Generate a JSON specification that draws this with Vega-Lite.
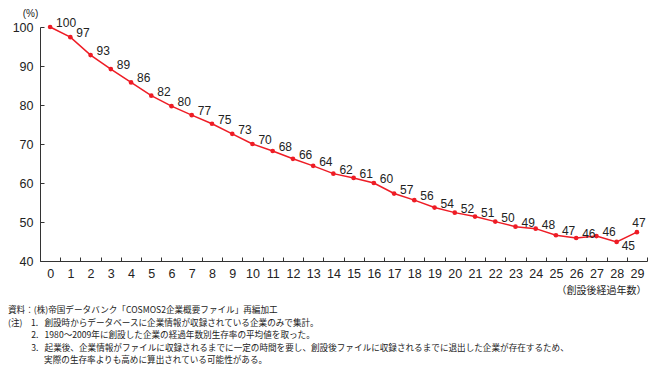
{
  "$schema": "https://vega.github.io/schema/vega-lite/v6.json",
  "width": 607,
  "height": 234,
  "autosize": {"type": "none"},
  "padding": {"left": 40, "top": 27, "right": 10, "bottom": 105},
  "background": "white",
  "config": {
    "view": {"stroke": null},
    "font": "Liberation Sans",
    "axis": {"domainColor": "#333333", "tickColor": "#333333", "labelColor": "#222222", "titleColor": "#222222", "grid": false, "labelFont": "Liberation Sans", "labelFontSize": 12.5}
  },
  "title": {
    "text": [
      "資料：(株)帝国データバンク「COSMOS2企業概要ファイル」再編加工",
      "(注)\u30001. \u2002創設時からデータベースに企業情報が収録されている企業のみで集計。",
      "\u200B\u3000\u3000\u2002\u20092. \u20021980～2009年に創設した企業の経過年数別生存率の平均値を取った。",
      "\u200B\u3000\u3000\u2002\u20093. \u2002起業後、企業情報がファイルに収録されるまでに一定の時間を要し、創設後ファイルに収録されるまでに退出した企業が存在するため、",
      "\u200B\u3000\u3000\u3000\u2002\u2002\u2009実際の生存率よりも高めに算出されている可能性がある。"
    ],
    "orient": "bottom",
    "anchor": "start",
    "frame": "group",
    "dx": -32,
    "offset": 11,
    "font": "Noto Sans CJK JP",
    "fontSize": 8.6,
    "fontWeight": "normal",
    "lineHeight": 12.5,
    "color": "#222222"
  },
  "data": {
    "values": [
      {"year": 0, "rate": 100.0},
      {"year": 1, "rate": 97.4},
      {"year": 2, "rate": 92.8},
      {"year": 3, "rate": 89.2},
      {"year": 4, "rate": 85.8},
      {"year": 5, "rate": 82.4},
      {"year": 6, "rate": 79.7},
      {"year": 7, "rate": 77.4},
      {"year": 8, "rate": 75.2},
      {"year": 9, "rate": 72.6},
      {"year": 10, "rate": 70.0},
      {"year": 11, "rate": 68.2},
      {"year": 12, "rate": 66.2},
      {"year": 13, "rate": 64.4},
      {"year": 14, "rate": 62.4},
      {"year": 15, "rate": 61.3},
      {"year": 16, "rate": 60.0},
      {"year": 17, "rate": 57.3},
      {"year": 18, "rate": 55.6},
      {"year": 19, "rate": 53.7},
      {"year": 20, "rate": 52.4},
      {"year": 21, "rate": 51.4},
      {"year": 22, "rate": 50.1},
      {"year": 23, "rate": 48.8},
      {"year": 24, "rate": 48.3},
      {"year": 25, "rate": 46.6},
      {"year": 26, "rate": 45.9},
      {"year": 27, "rate": 46.4},
      {"year": 28, "rate": 44.9},
      {"year": 29, "rate": 47.4}
    ]
  },
  "encoding": {
    "x": {
      "field": "year",
      "type": "ordinal",
      "scale": {"type": "band", "paddingInner": 0, "paddingOuter": 0},
      "axis": {
        "labelAngle": 0,
        "tickBand": "extent",
        "tickSize": -4,
        "labelPadding": 10,
        "title": "（創設後経過年数）",
        "titleFont": "Noto Sans CJK JP",
        "titleFontSize": 10,
        "titleFontWeight": "normal",
        "titleAnchor": "end",
        "titleAlign": "right",
        "titleX": 606,
        "titleY": 29,
        "titleBaseline": "middle"
      }
    },
    "y": {
      "field": "rate",
      "type": "quantitative",
      "scale": {"domain": [40, 100], "nice": false, "zero": false},
      "axis": {
        "values": [40, 50, 60, 70, 80, 90, 100],
        "tickSize": -4,
        "labelPadding": 11,
        "title": "(%)",
        "titleAngle": 0,
        "titleFontSize": 10,
        "titleFontWeight": "normal",
        "titleX": -10,
        "titleY": -14,
        "titleAlign": "center",
        "titleBaseline": "middle"
      }
    }
  },
  "layer": [
    {"mark": {"type": "line", "color": "#ee1c25", "strokeWidth": 1.5}},
    {"mark": {"type": "point", "shape": "circle", "filled": true, "opacity": 1, "color": "#ee1c25", "size": 22}},
    {
      "transform": [{"filter": "datum.year < 28"}],
      "mark": {"type": "text", "align": "left", "baseline": "middle", "dx": 6, "dy": -4, "fontSize": 12, "color": "#222222"},
      "encoding": {"text": {"field": "rate", "type": "quantitative", "format": ".0f"}}
    },
    {
      "transform": [{"filter": "datum.year == 28"}],
      "mark": {"type": "text", "align": "left", "baseline": "middle", "dx": 5, "dy": 4, "fontSize": 12, "color": "#222222"},
      "encoding": {"text": {"field": "rate", "type": "quantitative", "format": ".0f"}}
    },
    {
      "transform": [{"filter": "datum.year == 29"}],
      "mark": {"type": "text", "align": "center", "baseline": "middle", "dx": 2, "dy": -9, "fontSize": 12, "color": "#222222"},
      "encoding": {"text": {"field": "rate", "type": "quantitative", "format": ".0f"}}
    }
  ]
}
